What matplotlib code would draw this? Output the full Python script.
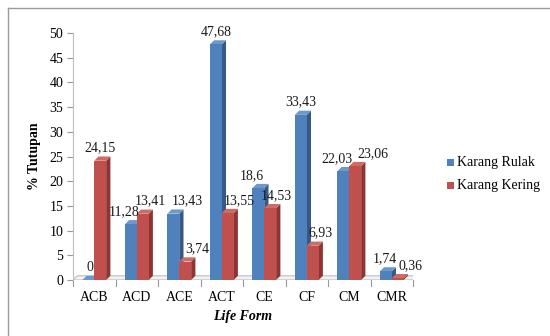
import matplotlib
matplotlib.use("Agg")
import matplotlib.pyplot as plt
from matplotlib.patches import Polygon, Rectangle
from matplotlib.lines import Line2D

categories = ["ACB", "ACD", "ACE", "ACT", "CE", "CF", "CM", "CMR"]
karang_rulak = [0, 11.28, 13.43, 47.68, 18.6, 33.43, 22.03, 1.74]
karang_kering = [24.15, 13.41, 3.74, 13.55, 14.53, 6.93, 23.06, 0.36]
series_names = ["Karang Rulak", "Karang Kering"]
yticks = [0, 5, 10, 15, 20, 25, 30, 35, 40, 45, 50]

# horizontal nudges (pixels) for the value labels so they do not collide
label_nudge = [
    [0, -9, 12, -2, -9, -2, -8, -3],
    [-2, 6, 10, 9, 4, 6, 16, 11],
]

front_colors = ["#4F81BD", "#C0504D"]
side_colors = ["#36598A", "#8E3533"]
top_colors = ["#6E98CB", "#D06A67"]

serif = ["Liberation Serif", "DejaVu Serif"]
fs = 10

fig = plt.figure(figsize=(5.5, 3.36), dpi=100)
fig.patch.set_facecolor("white")

# outer frame (top and left edges)
fig.add_artist(Line2D([8 / 550, 8 / 550], [0, 1 - 8 / 336], transform=fig.transFigure,
                      color="#9a9a9a", lw=1.0))
fig.add_artist(Line2D([8 / 550, 1], [1 - 8 / 336, 1 - 8 / 336], transform=fig.transFigure,
                      color="#9a9a9a", lw=1.0))

ax = fig.add_axes([73 / 550, 56 / 336, 340 / 550, 247 / 336])
ax.set_xlim(-0.5, len(categories) - 0.5)
ax.set_ylim(0, 50)

w = 0.28          # bar width in category units
dx = 0.10         # depth offset (x, data units)
dy = 0.85         # depth offset (y, data units)

# floor
floor = Polygon([(-0.5, 0), (len(categories) - 0.5, 0),
                 (len(categories) - 0.5 + dx, dy), (-0.5 + dx, dy)],
                closed=True, facecolor="#f2f2f2", edgecolor="#bfbfbf", lw=0.8, zorder=1)
ax.add_patch(floor)

for s, vals in enumerate([karang_rulak, karang_kering]):
    for i, v in enumerate(vals):
        x0 = i - w + s * w
        x1 = x0 + w
        ax.add_patch(Polygon([(x1, 0), (x1 + dx, dy), (x1 + dx, v + dy), (x1, v)],
                             closed=True, facecolor=side_colors[s], edgecolor="none", zorder=3 + s))
        ax.add_patch(Polygon([(x0, v), (x1, v), (x1 + dx, v + dy), (x0 + dx, v + dy)],
                             closed=True, facecolor=top_colors[s], edgecolor="none", zorder=3 + s))
        ax.add_patch(Rectangle((x0, 0), w, v, facecolor=front_colors[s],
                               edgecolor="none", zorder=3 + s))
        label = f"{v:g}".replace(".", ",")
        ax.annotate(label, xy=((x0 + x1) / 2 + dx / 2, v + dy),
                    xytext=(label_nudge[s][i] * 0.72, 1.5), textcoords="offset points",
                    ha="center", va="bottom", fontsize=fs, family=serif,
                    color="#1a1a1a", zorder=10)

for sp in ["top", "right", "bottom"]:
    ax.spines[sp].set_visible(False)
ax.spines["left"].set_color("#bfbfbf")

ax.set_yticks(yticks)
ax.set_yticklabels([str(t) for t in yticks], family=serif, fontsize=fs)
ax.tick_params(axis="y", length=4, color="#999999", pad=3)

ax.set_xticks(range(len(categories)))
ax.set_xticklabels(categories, family=serif, fontsize=fs)
ax.tick_params(axis="x", length=0, pad=8)
for b in range(len(categories) + 1):
    ax.plot([b - 0.5, b - 0.5], [0, -1.3], color="#999999", lw=0.8, clip_on=False)
ax.plot([-0.5, len(categories) - 0.5], [0, 0], color="#bfbfbf", lw=0.8, zorder=2)

ax.set_ylabel("% Tutupan", family=serif, fontsize=fs, fontweight="bold", labelpad=6)
ax.set_xlabel("Life Form", family=serif, fontsize=fs, fontweight="bold", style="italic",
              labelpad=4)

for s, name in enumerate(series_names):
    ypix = 162 + s * 23
    fig.patches.append(Rectangle((447 / 550, 1 - (ypix + 4) / 336), 7 / 550, 7 / 336,
                                 transform=fig.transFigure, facecolor=front_colors[s],
                                 edgecolor="none"))
    fig.text(457 / 550, 1 - ypix / 336, name, family=serif, fontsize=fs, va="center",
             ha="left")

fig.savefig("out.png", dpi=100)
